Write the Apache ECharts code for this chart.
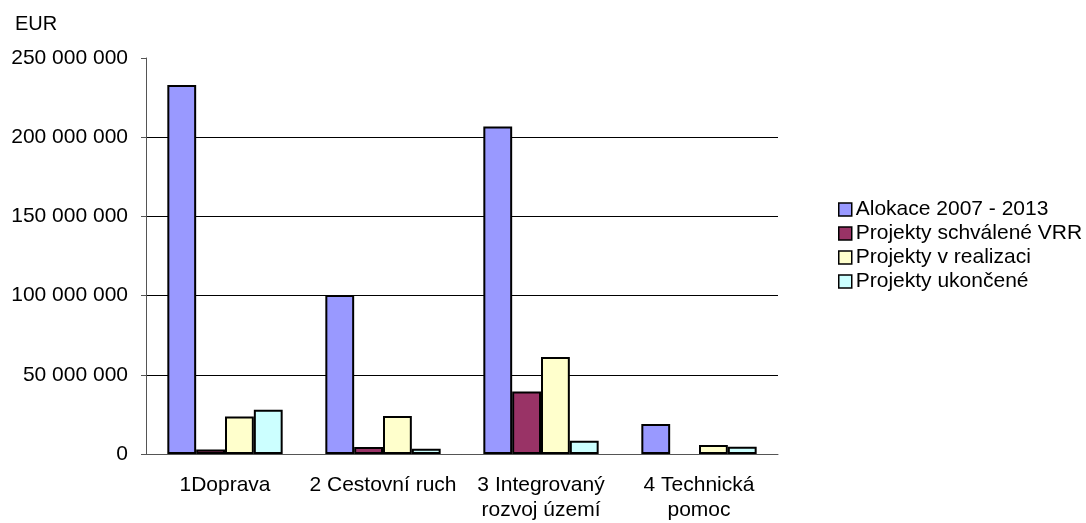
<!DOCTYPE html>
<html>
<head>
<meta charset="utf-8">
<script src="https://cdn.jsdelivr.net/npm/echarts@6/dist/echarts.min.js"></script>
<style>
  html,body{margin:0;padding:0;background:#fff;}
  #chart{width:1086px;height:523px;}
</style>
</head>
<body>
<div id="chart"></div>
<script>
var categories = ['1Doprava', '2 Cestovní ruch', '3 Integrovaný\nrozvoj území', '4 Technická\npomoc']
var seriesNames = ['Alokace 2007 - 2013', 'Projekty schválené VRR', 'Projekty v realizaci', 'Projekty ukončené']
var alokace = [233000000, 100400000, 206800000, 18900000]
var schvalene = [2900000, 4400000, 39500000, null]
var realizace = [23700000, 24000000, 61200000, 5700000]
var ukoncene = [28000000, 3300000, 8400000, 4600000]
var colors = ['#9999FF', '#993366', '#FFFFCC', '#CCFFFF']

var font = 'Liberation Sans, Arial, sans-serif'
var chart = echarts.init(document.getElementById('chart'))

function bar(name, data) {
  return {
    name: name,
    type: 'bar',
    data: data,
    barGap: 0,
    barCategoryGap: '27%',
    itemStyle: { borderColor: '#000', borderWidth: 2 }
  }
}

var option = {
  animation: false,
  color: colors,
  textStyle: { fontFamily: font, color: '#000' },
  grid: { left: 146, right: 308, top: 58, bottom: 69, containLabel: false },
  graphic: [{
    type: 'text', left: 15, top: 14,
    style: { text: 'EUR', font: '20px ' + font, fill: '#000' }
  }],
  legend: {
    orient: 'vertical',
    left: 833,
    top: 194,
    itemWidth: 13,
    itemHeight: 13,
    itemGap: 3,
    icon: 'rect',
    data: seriesNames,
    textStyle: { fontSize: 21, fontFamily: font, color: '#000', padding: [0, 0, 0, -1] },
    itemStyle: { borderColor: '#000', borderWidth: 1.5 }
  },
  xAxis: {
    type: 'category',
    data: categories,
    axisLine: { lineStyle: { color: '#555', width: 1 } },
    axisTick: { length: 5, lineStyle: { color: '#555' } },
    axisLabel: { fontSize: 21, color: '#000', margin: 19, lineHeight: 25, interval: 0 }
  },
  yAxis: {
    type: 'value',
    min: 0,
    max: 250000000,
    interval: 50000000,
    axisLine: { show: true, lineStyle: { color: '#555', width: 1 } },
    axisTick: { show: true, length: 5, lineStyle: { color: '#555' } },
    axisLabel: {
      fontSize: 21, color: '#000', margin: 18,
      formatter: function (v) { return String(v).replace(/\B(?=(\d{3})+(?!\d))/g, ' ') }
    },
    splitLine: { show: true, showMaxLine: false, lineStyle: { color: '#000', width: 1 } }
  },
  series: [
    bar(seriesNames[0], alokace),
    bar(seriesNames[1], schvalene),
    bar(seriesNames[2], realizace),
    bar(seriesNames[3], ukoncene)
  ]
}

chart.setOption(option)
</script>
</body>
</html>
